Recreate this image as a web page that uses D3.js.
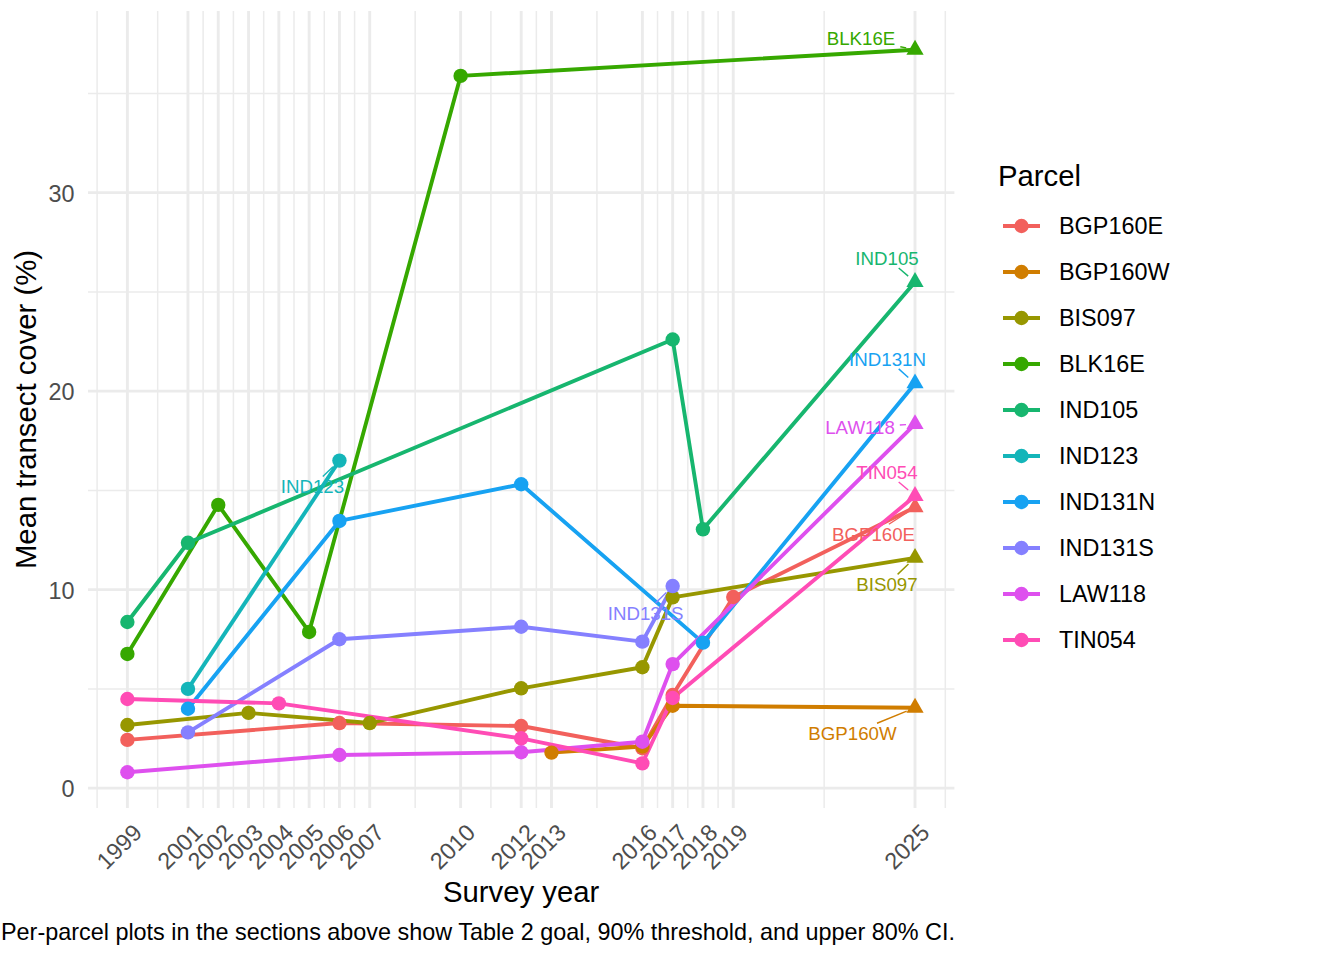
<!DOCTYPE html>
<html><head><meta charset="utf-8">
<script src="https://cdn.jsdelivr.net/npm/d3@7"></script>
<style>body{margin:0;background:#fff}svg{display:block}</style>
</head><body>
<svg id="chart" width="1344" height="960"></svg>
<script>
// ---------- data ----------
const parcels = ["BGP160E","BGP160W","BIS097","BLK16E","IND105","IND123","IND131N","IND131S","LAW118","TIN054"];
const parcelColors = ["#F2605C","#D07D00","#979700","#36A800","#17B66F","#14B5B9","#17A2F2","#8580FF","#DE50EE","#FF4CB5"];
const tickYears = [1999,2001,2002,2003,2004,2005,2006,2007,2010,2012,2013,2016,2017,2018,2019,2025];
const yTicks = [0,10,20,30];

const yearsBGP160E = [1999,2006,2012,2016,2017,2019,2025];
const coverBGP160E = [2.43,3.28,3.13,2.01,4.69,9.63,14.15];
const yearsBGP160W = [2013,2016,2017,2025];
const coverBGP160W = [1.79,2.1,4.15,4.05];
const yearsBIS097 = [1999,2003,2007,2012,2016,2017,2025];
const coverBIS097 = [3.18,3.79,3.28,5.03,6.09,9.61,11.6];
const yearsBLK16E = [1999,2002,2005,2010,2025];
const coverBLK16E = [6.76,14.27,7.87,35.88,37.2];
const yearsIND105 = [1999,2001,2017,2018,2025];
const coverIND105 = [8.37,12.36,22.6,13.04,25.5];
const yearsIND123 = [2001,2006];
const coverIND123 = [5.0,16.5];
const yearsIND131N = [2001,2006,2012,2018,2025];
const coverIND131N = [4.0,13.46,15.31,7.33,20.39];
const yearsIND131S = [2001,2006,2012,2016,2017];
const coverIND131S = [2.81,7.5,8.13,7.38,10.18];
const yearsLAW118 = [1999,2006,2012,2016,2017,2025];
const coverLAW118 = [0.8,1.67,1.81,2.34,6.25,18.34];
const yearsTIN054 = [1999,2004,2012,2016,2017,2025];
const coverTIN054 = [4.49,4.27,2.51,1.25,4.54,14.72];

const captionText = "Per-parcel plots in the sections above show Table 2 goal, 90% threshold, and upper 80% CI.";

// ---------- layout (label repel offsets in px, from end point to label centre) ----------
const labelOffsets = {
  BLK16E:[-54,-11], IND105:[-28,-24], IND131N:[-27.5,-24.5], LAW118:[-55,3.5],
  TIN054:[-28,-24], BGP160E:[-41.5,27], BIS097:[-28,26.5], BGP160W:[-62.5,25.5],
  IND123:[-27,26], IND131S:[-27,27]
};

const yearsBy = {BGP160E:yearsBGP160E,BGP160W:yearsBGP160W,BIS097:yearsBIS097,BLK16E:yearsBLK16E,IND105:yearsIND105,IND123:yearsIND123,IND131N:yearsIND131N,IND131S:yearsIND131S,LAW118:yearsLAW118,TIN054:yearsTIN054};
const coverBy = {BGP160E:coverBGP160E,BGP160W:coverBGP160W,BIS097:coverBIS097,BLK16E:coverBLK16E,IND105:coverIND105,IND123:coverIND123,IND131N:coverIND131N,IND131S:coverIND131S,LAW118:coverLAW118,TIN054:coverTIN054};

const series = parcels.map((p,i)=>({
  name:p, color:parcelColors[i],
  pts: yearsBy[p].map((y,j)=>({year:y, v:coverBy[p][j]}))
}));

// ---------- scales ----------
const FONT = "'Liberation Sans', Arial, Helvetica, sans-serif";
const panel = {l:88, r:954.4, t:11, b:808};
const allYears = series.flatMap(s=>s.pts.map(d=>d.year));
const xr = d3.extent(allYears), xpad = (xr[1]-xr[0])*0.05;
const x = d3.scaleLinear().domain([xr[0]-xpad, xr[1]+xpad]).range([panel.l, panel.r]);
const y = d3.scaleLinear().domain([-1.0, 39.15]).range([panel.b, panel.t]);

const svg = d3.select("#chart");
svg.append("rect").attr("width",1344).attr("height",960).attr("fill","#fff");

// ---------- grid ----------
const minorX = [];
{
  const b = [tickYears[0]-(tickYears[1]-tickYears[0]), ...tickYears, tickYears[tickYears.length-1]+(tickYears[1]-tickYears[0])];
  for (let i=0;i<b.length-1;i++) minorX.push((b[i]+b[i+1])/2);
}
const minorY = [-5,5,15,25,35];
const g = svg.append("g");
g.selectAll(".mx").data(minorX.filter(v=>v>=x.domain()[0]&&v<=x.domain()[1])).join("line")
  .attr("x1",d=>x(d)).attr("x2",d=>x(d)).attr("y1",panel.t).attr("y2",panel.b)
  .attr("stroke","#EBEBEB").attr("stroke-width",1.5);
g.selectAll(".my").data(minorY.filter(v=>v>=y.domain()[0]&&v<=y.domain()[1])).join("line")
  .attr("y1",d=>y(d)).attr("y2",d=>y(d)).attr("x1",panel.l).attr("x2",panel.r)
  .attr("stroke","#EBEBEB").attr("stroke-width",1.5);
g.selectAll(".Mx").data(tickYears).join("line")
  .attr("x1",d=>x(d)).attr("x2",d=>x(d)).attr("y1",panel.t).attr("y2",panel.b)
  .attr("stroke","#EBEBEB").attr("stroke-width",2.9);
g.selectAll(".My").data(yTicks).join("line")
  .attr("y1",d=>y(d)).attr("y2",d=>y(d)).attr("x1",panel.l).attr("x2",panel.r)
  .attr("stroke","#EBEBEB").attr("stroke-width",2.9);

// ---------- axes ----------
const xAxis = d3.axisBottom(x).tickValues(tickYears).tickFormat(d3.format("d")).tickSize(0);
const xg = svg.append("g").attr("transform",`translate(0,${panel.b})`).call(xAxis);
xg.select(".domain").remove();
xg.selectAll("text").attr("font-family",FONT).attr("font-size",23.4).attr("fill","#4D4D4D")
  .attr("text-anchor","end").attr("dy",null).attr("y",0)
  .attr("transform","translate(15.5,26) rotate(-45)");

const yAxis = d3.axisLeft(y).tickValues(yTicks).tickFormat(d3.format("d")).tickSize(0);
const yg = svg.append("g").attr("transform",`translate(${panel.l},0)`).call(yAxis);
yg.select(".domain").remove();
yg.selectAll("text").attr("font-family",FONT).attr("font-size",23.4).attr("fill","#4D4D4D")
  .attr("x",-13.5).attr("dy","0.36em");

svg.append("text").attr("x",(panel.l+panel.r)/2).attr("y",902).attr("text-anchor","middle")
  .attr("font-family",FONT).attr("font-size",29.3).attr("fill","#000").text("Survey year");
svg.append("text").attr("transform",`translate(36,${(panel.t+panel.b)/2}) rotate(-90)`).attr("text-anchor","middle")
  .attr("font-family",FONT).attr("font-size",29.3).attr("fill","#000").text("Mean transect cover (%)");
svg.append("text").attr("x",1).attr("y",940).attr("text-anchor","start")
  .attr("font-family",FONT).attr("font-size",23.4).attr("fill","#000").text(captionText);

// ---------- lines ----------
const line = d3.line().x(d=>x(d.year)).y(d=>y(d.v));
svg.append("g").selectAll("path").data(series).join("path")
  .attr("d",s=>line(s.pts)).attr("fill","none").attr("stroke",s=>s.color)
  .attr("stroke-width",3.9).attr("stroke-linejoin","round");

// ---------- points ----------
const tri = d3.symbol().type(d3.symbolTriangle).size(128);
const pg = svg.append("g");
series.forEach(s=>{
  s.pts.forEach(d=>{
    if (d.year===2025) {
      pg.append("path").attr("d",tri()).attr("transform",`translate(${x(d.year)},${y(d.v)})`).attr("fill",s.color);
    } else {
      pg.append("circle").attr("cx",x(d.year)).attr("cy",y(d.v)).attr("r",7.2).attr("fill",s.color);
    }
  });
});

// ---------- repel labels ----------
const LFS = 18.7;
const lg = svg.append("g");
series.forEach(s=>{
  const last = s.pts[s.pts.length-1];
  const px = x(last.year), py = y(last.v);
  const off = labelOffsets[s.name];
  const cx = px+off[0], cy = py+off[1];
  const t = lg.append("text").attr("x",cx).attr("y",cy).attr("dy","0.36em").attr("text-anchor","middle")
    .attr("font-family",FONT).attr("font-size",LFS).attr("fill",s.color).text(s.name);
  const w = t.node().getComputedTextLength();
  const hw = w/2+5, hh = 10;
  const dx = px-cx, dy = py-cy, len = Math.hypot(dx,dy);
  const ux = dx/len, uy = dy/len;
  const tb = Math.min(Math.abs(hw/(ux||1e-9)), Math.abs(hh/(uy||1e-9)));
  const sx = cx+ux*tb, sy = cy+uy*tb;
  const ex = px-ux*9, ey = py-uy*9;
  if ((ex-sx)*ux+(ey-sy)*uy > 1) {
    lg.insert("line","text").attr("x1",sx).attr("y1",sy).attr("x2",ex).attr("y2",ey)
      .attr("stroke",s.color).attr("stroke-width",1.4);
  }
});

// ---------- legend ----------
const leg = svg.append("g");
leg.append("text").attr("x",998).attr("y",186).attr("font-family",FONT).attr("font-size",29.3)
  .attr("fill","#000").text("Parcel");
series.forEach((s,i)=>{
  const ky = 226+i*46;
  leg.append("line").attr("x1",1003).attr("x2",1040).attr("y1",ky).attr("y2",ky)
    .attr("stroke",s.color).attr("stroke-width",3.9);
  leg.append("circle").attr("cx",1021.5).attr("cy",ky).attr("r",7.2).attr("fill",s.color);
  leg.append("text").attr("x",1059).attr("y",ky).attr("dy","0.36em").attr("font-family",FONT)
    .attr("font-size",23.4).attr("fill","#000").text(s.name);
});
</script>
</body></html>
